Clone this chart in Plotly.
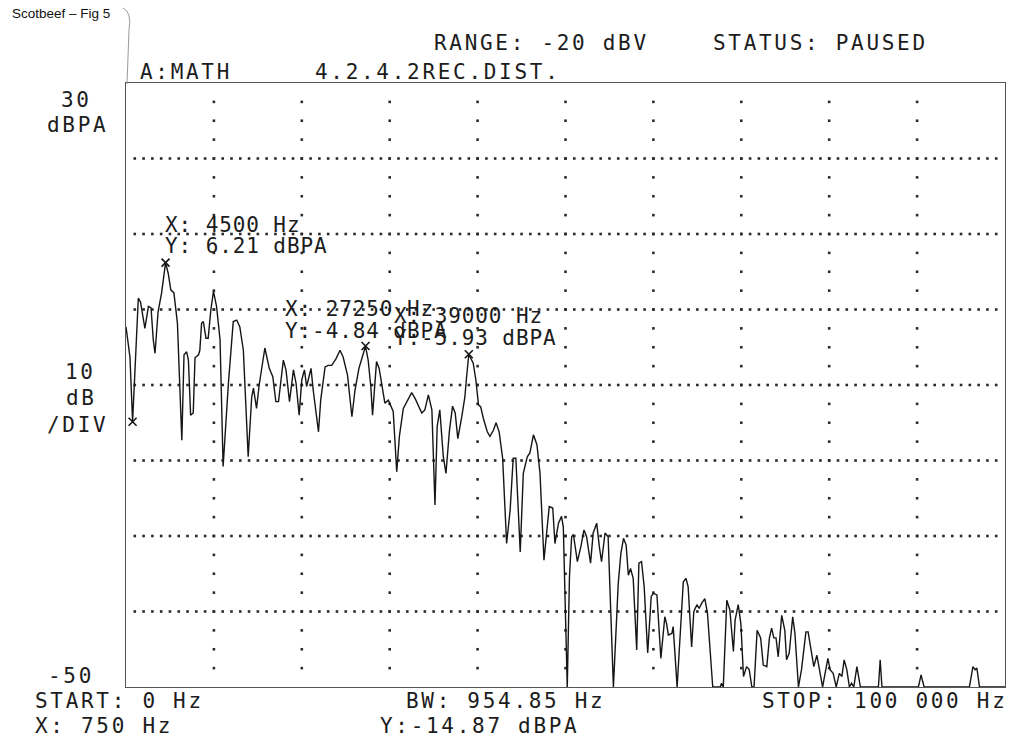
import numpy as np
import plotly.graph_objects as go

# ---- spectrum trace (Hz, dBPA); values below the bottom of the screen sit at -50 ----
freq_hz = [
    0, 450, 750, 1400, 1650, 2150, 2550, 2850, 3100, 3300,
    3650, 4050, 4500, 4800, 5100, 5450, 5850, 6350, 6600, 6900,
    7100, 7350, 7650, 7850, 8250, 8400, 8600, 8800, 9100, 9350,
    9650, 9950, 10300, 10700, 11050, 11650, 12200, 12600, 12950, 13350,
    13900, 14300, 14500, 14850, 15150, 15450, 15800, 16300, 16700, 17050,
    17350, 17900, 18200, 18600, 19050, 19350, 19700, 20000, 20300, 20550,
    21050, 21300, 21900, 22150, 22650, 23000, 23400, 23900, 24350, 24700,
    25200, 25700, 26050, 26500, 27250, 27550, 27850, 28050, 28500, 28800,
    29200, 29450, 29850, 30250, 30400, 30800, 31100, 31550, 31950, 32500,
    32900, 33650, 34000, 34400, 34800, 35150, 35400, 35700, 36100, 36400,
    36800, 37150, 37450, 37750, 38200, 38550, 38750, 39000, 39500, 39800,
    40100, 40350, 40650, 41100, 41400, 41800, 42100, 42450, 42850, 43300,
    43700, 44050, 44350, 44850, 45200, 45650, 45950, 46350, 46750, 47100,
    47550, 47850, 48150, 48550, 48800, 49200, 49550, 49750, 50200, 50450,
    50700, 50900, 51350, 51750, 52100, 52400, 52850, 53150, 53550, 53850,
    54100, 54500, 54850, 55450, 56000, 56300, 56600, 56900, 57150, 57400,
    57700, 58100, 58350, 58650, 58950, 59350, 59750, 60000, 60400, 60850,
    61300, 61500, 61700, 62100, 62250, 62700, 63050, 63400, 63700, 63950,
    64350, 64600, 64950, 65200, 65500, 65850, 66150, 66750, 67600, 67750,
    67950, 68350, 68700, 69100, 69300, 69650, 69950, 70250, 70600, 70900,
    71200, 71450, 71800, 72200, 72500, 72900, 73200, 73450, 73700, 73950,
    74200, 74600, 74950, 75150, 75450, 75850, 76100, 76500, 76850, 77350,
    77600, 78000, 78250, 78600, 78900, 79250, 79500, 79850, 80100, 80450,
    80800, 81150, 81450, 81700, 82000, 82300, 82550, 82800, 83150, 83450,
    83550, 85600, 85800, 86000, 90150, 90450, 90800, 95950, 96350, 96600,
    96800, 97100, 100000,
]
level_dbpa = [
    -2.3, -6.3, -14.87, 1.5, 1.0, -2.5, 0.4, 0.2, -4.0, -5.8,
    -0.3, 2.2, 6.21, 4.8, 2.6, 2.2, -1.8, -17.3, -6.0, -5.6,
    -6.7, -14.0, -13.7, -6.4, -6.0, -5.4, -1.8, -1.6, -3.8, -3.8,
    -0.1, 2.4, 0.4, -4.0, -20.8, -9.8, -1.6, -1.4, -2.3, -5.4,
    -19.5, -11.6, -10.4, -13.1, -10.0, -8.0, -5.1, -7.8, -8.9, -12.2,
    -12.2, -6.7, -8.0, -12.2, -8.0, -9.8, -14.0, -9.3, -8.0, -10.2,
    -7.8, -10.7, -16.2, -12.0, -7.6, -7.4, -7.4, -6.5, -5.4, -6.3,
    -8.7, -14.2, -10.7, -7.8, -4.84, -6.7, -10.2, -14.0, -6.9, -7.8,
    -10.9, -12.4, -12.0, -13.1, -13.5, -21.5, -16.8, -13.1, -12.2, -11.0,
    -11.8, -13.7, -13.3, -11.3, -13.3, -25.9, -15.5, -13.3, -19.5, -21.7,
    -16.0, -12.8, -13.7, -17.1, -14.2, -11.6, -8.9, -5.93, -7.1, -9.3,
    -12.6, -12.9, -14.4, -16.2, -16.8, -16.0, -15.0, -16.2, -19.7, -31.0,
    -26.6, -19.7, -19.7, -32.1, -21.7, -19.5, -19.0, -16.6, -17.9, -21.7,
    -33.2, -29.2, -26.1, -26.3, -31.0, -28.3, -27.4, -28.8, -50, -35.4,
    -30.1, -29.8, -33.4, -31.4, -29.2, -30.1, -33.6, -29.6, -28.3, -31.4,
    -33.4, -29.6, -30.1, -50, -36.3, -32.3, -30.3, -31.2, -35.2, -34.3,
    -35.6, -45.1, -33.6, -33.4, -36.7, -45.5, -38.0, -37.6, -37.8, -46.2,
    -40.7, -41.6, -43.1, -42.9, -42.0, -50, -42.5, -36.1, -35.6, -36.7,
    -44.7, -40.0, -39.1, -39.6, -38.9, -38.3, -40.2, -50, -50, -49.5,
    -50, -38.5, -39.8, -45.3, -41.1, -39.1, -41.6, -48.6, -47.3, -47.7,
    -50, -50, -42.5, -43.5, -47.1, -47.3, -43.5, -42.2, -43.5, -43.5,
    -46.0, -40.5, -42.5, -46.4, -45.5, -40.7, -42.9, -50, -47.7, -42.7,
    -42.7, -45.3, -47.3, -45.8, -47.7, -50, -48.4, -46.2, -47.7, -48.2,
    -50, -48.2, -48.6, -46.4, -47.7, -50, -49.5, -50, -47.3, -49.7,
    -50, -50, -46.4, -50, -50, -48.4, -50, -50, -47.3, -47.7,
    -47.5, -50, -50,
]

# ---- markers placed on the trace ----
marker_freq = [4500, 27250, 39000]
marker_level = [6.21, -4.84, -5.93]
active_freq = 750
active_level = -14.87

# ---- screen annotation text ----
header_range = "RANGE: -20 dBV"
header_status = "STATUS: PAUSED"
trace_name = "A:MATH"
trace_title = "4.2.4.2REC.DIST."
start_text = "START: 0 Hz"
bw_text = "BW: 954.85 Hz"
stop_text = "STOP: 100 000 Hz"
top_ref = ["30", "dBPA"]
scale_text = ["10", "dB", "/DIV"]
bottom_ref = "-50"
fig_caption = "Scotbeef \u2013 Fig 5"

X_RANGE = [0, 100000]
Y_RANGE = [-50, 30]

W, H = 1009, 746
PL, PR, PT, PB = 126, 1005, 83, 687   # plot box in page pixels

MONO = "DejaVu Sans Mono"
INK = "#1c1c1c"


def xp(px):
    return (px - PL) / (PR - PL)


def yp(py):
    return (PB - py) / (PB - PT)


def spaced(s, ls):
    return f'<span style="letter-spacing:{ls}px">{s}</span>'


fig = go.Figure()

# dotted graticule: horizontal rows every 10 dB, vertical columns every 10 kHz
row_levels = np.arange(-40, 30, 10)
row_f = np.arange(1000, 100000, 1000)
gx, gy = np.meshgrid(row_f, row_levels)
fig.add_trace(go.Scatter(
    x=gx.ravel(), y=gy.ravel(), mode="markers", hoverinfo="skip",
    marker=dict(symbol="square", size=2.6, color="#2a2a2a", line=dict(width=0)),
))
col_f = np.arange(10000, 100000, 10000)
col_levels = np.arange(-47.5, 30, 2.5)
cx, cy = np.meshgrid(col_f, col_levels)
fig.add_trace(go.Scatter(
    x=cx.ravel(), y=cy.ravel(), mode="markers", hoverinfo="skip",
    marker=dict(symbol="square", size=2.6, color="#2a2a2a", line=dict(width=0)),
))

# spectrum trace
fig.add_trace(go.Scatter(
    x=freq_hz, y=level_dbpa, mode="lines",
    line=dict(color="#151515", width=1.4), hoverinfo="x+y",
))

# marker crosses
fig.add_trace(go.Scatter(
    x=marker_freq + [active_freq], y=marker_level + [active_level],
    mode="markers", cliponaxis=False,
    marker=dict(symbol="x-thin", size=8, line=dict(width=1.6, color="#151515")),
))

ann = []


def label(text, x, y, size=21, ls=2.7, anchor="left"):
    ann.append(dict(
        text=spaced(text, ls), x=xp(x), y=yp(y), xref="paper", yref="paper",
        xanchor=anchor, yanchor="middle", showarrow=False,
        font=dict(family=MONO, size=size, color=INK),
    ))


# header
label(header_range, 432, 43)
label(header_status, 711, 43)
label(trace_name, 138, 71.5)
label(trace_title, 313, 71.5)

# left scale
label(top_ref[0], 76, 99.5, anchor="center")
label(top_ref[1], 77, 124.5, anchor="center")
label(scale_text[0], 80, 372, anchor="center")
label(scale_text[1], 81, 398, anchor="center")
label(scale_text[2], 77, 425, anchor="center")
label(bottom_ref, 71, 675.5, anchor="center")

# footer
label(start_text, 33, 700.5)
label(bw_text, 404, 700.5)
label(stop_text, 760, 700.5)
label(f"X: {active_freq} Hz", 33, 726)
label(f"Y:{active_level: .2f} dBPA".replace("Y: -", "Y:-"), 378, 726)

# marker readouts
readout_pos = [(163, 225.5, 246), (283, 309, 330.5), (392, 316, 338)]
for f, v, (lx, yx, yy) in zip(marker_freq, marker_level, readout_pos):
    label(f"X: {f} Hz", lx, yx, ls=0.9)
    label(f"Y:{v: .2f} dBPA", lx, yy, ls=0.9)

# caption in the corner
ann.append(dict(
    text=fig_caption, x=xp(10), y=yp(13.5), xref="paper", yref="paper",
    xanchor="left", yanchor="middle", showarrow=False,
    font=dict(family="Liberation Sans", size=13.5, color="#111"),
))

# edge of the pasted caption slip
slip = f"M {xp(123)},{yp(8)} Q {xp(132)},{yp(12)} {xp(129)},{yp(30)} L {xp(127)},{yp(84)}"

fig.update_layout(
    width=W, height=H,
    margin=dict(l=PL, r=W - PR, t=PT, b=H - PB, pad=0),
    paper_bgcolor="white", plot_bgcolor="white",
    showlegend=False,
    annotations=ann,
    shapes=[dict(type="path", path=slip, xref="paper", yref="paper",
                 line=dict(color="#9a9a9a", width=1))],
    xaxis=dict(range=X_RANGE, showgrid=False, zeroline=False, showticklabels=False,
               ticks="", showline=True, mirror=True, linecolor="#555", linewidth=1,
               fixedrange=True),
    yaxis=dict(range=Y_RANGE, showgrid=False, zeroline=False, showticklabels=False,
               ticks="", showline=True, mirror=True, linecolor="#555", linewidth=1,
               fixedrange=True),
)

fig.write_html("out.html")
